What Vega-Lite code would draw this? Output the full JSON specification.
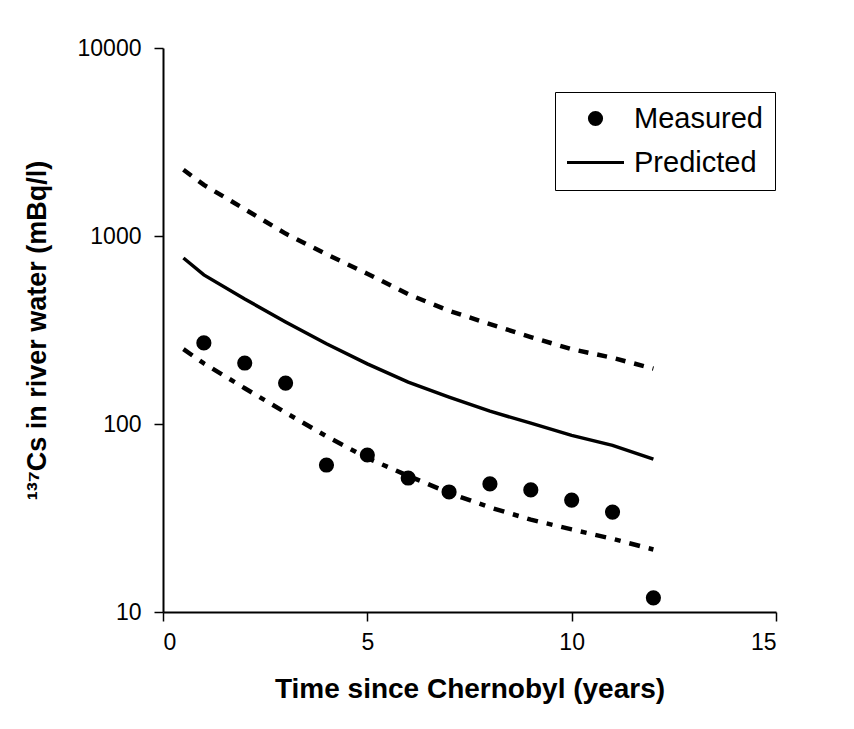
{
  "$schema": "https://vega.github.io/schema/vega-lite/v6.json",
  "autosize": {"type": "none"},
  "width": 613,
  "height": 564,
  "padding": {"left": 163, "top": 48, "right": 78, "bottom": 117},
  "background": "white",
  "config": {
    "view": {"stroke": null},
    "font": "Liberation Sans",
    "axis": {
      "grid": false,
      "domainColor": "black",
      "domainWidth": 2,
      "tickColor": "black",
      "tickWidth": 1.5,
      "tickSize": 9,
      "labelColor": "black",
      "labelFont": "Liberation Sans",
      "labelFontSize": 23,
      "titleColor": "black",
      "titleFont": "Liberation Sans",
      "titleFontWeight": "bold",
      "titleFontSize": 27
    }
  },
  "datasets": {
    "measured": [
      {"t": 1, "value": 270, "series": "Measured"},
      {"t": 2, "value": 211, "series": "Measured"},
      {"t": 3, "value": 165, "series": "Measured"},
      {"t": 4, "value": 60.5, "series": "Measured"},
      {"t": 5, "value": 68.4, "series": "Measured"},
      {"t": 6, "value": 51.6, "series": "Measured"},
      {"t": 7, "value": 43.5, "series": "Measured"},
      {"t": 8, "value": 48, "series": "Measured"},
      {"t": 9, "value": 44.6, "series": "Measured"},
      {"t": 10, "value": 39.4, "series": "Measured"},
      {"t": 11, "value": 34, "series": "Measured"},
      {"t": 12, "value": 11.9, "series": "Measured"}
    ],
    "model": [
      {"t": 0.5, "predicted": 764, "upper": 2250, "lower": 250},
      {"t": 1, "predicted": 621, "upper": 1870, "lower": 210},
      {"t": 2, "predicted": 462, "upper": 1390, "lower": 155},
      {"t": 3, "predicted": 349, "upper": 1030, "lower": 115},
      {"t": 4, "predicted": 267, "upper": 800, "lower": 86},
      {"t": 5, "predicted": 209, "upper": 630, "lower": 66},
      {"t": 6, "predicted": 167, "upper": 490, "lower": 53},
      {"t": 7, "predicted": 139, "upper": 400, "lower": 43},
      {"t": 8, "predicted": 117, "upper": 340, "lower": 36},
      {"t": 9, "predicted": 101, "upper": 290, "lower": 31},
      {"t": 10, "predicted": 87, "upper": 250, "lower": 27.5},
      {"t": 11, "predicted": 77, "upper": 225, "lower": 24.5},
      {"t": 12, "predicted": 65, "upper": 197, "lower": 21.5}
    ]
  },
  "encoding": {
    "x": {
      "field": "t",
      "type": "quantitative",
      "scale": {"domain": [0, 15], "nice": false, "zero": false},
      "axis": {
        "values": [0, 5, 10, 15],
        "title": "Time since Chernobyl (years)",
        "titleFontSize": 28,
        "labelPadding": 10,
        "titlePadding": 21
      }
    }
  },
  "layer": [
    {
      "data": {"name": "model"},
      "mark": {"type": "line", "color": "black", "strokeWidth": 4.5, "strokeDash": [10, 9]},
      "encoding": {
        "y": {
          "field": "upper",
          "type": "quantitative",
          "scale": {"type": "log", "domain": [10, 10000], "nice": false},
          "axis": {
            "values": [10, 100, 1000, 10000],
            "format": "d",
            "title": "¹³⁷Cs in river water (mBq/l)",
            "labelPadding": 13,
            "titlePadding": 26
          }
        }
      }
    },
    {
      "data": {"name": "model"},
      "mark": {"type": "line", "color": "black", "strokeWidth": 4.5, "strokeDash": [11, 9, 6, 9]},
      "encoding": {
        "y": {"field": "lower", "type": "quantitative"}
      }
    },
    {
      "data": {"name": "model"},
      "mark": {"type": "line", "color": "black", "strokeWidth": 3.5},
      "encoding": {
        "y": {"field": "predicted", "type": "quantitative"}
      }
    },
    {
      "data": {"name": "measured"},
      "mark": {"type": "point", "filled": true, "color": "black", "opacity": 1},
      "encoding": {
        "y": {"field": "value", "type": "quantitative"},
        "shape": {
          "field": "series",
          "type": "nominal",
          "scale": {"domain": ["Measured", "Predicted"], "range": ["circle", "M-1,-0.055H1V0.055H-1Z"]},
          "legend": {
            "title": null,
            "orient": "none",
            "legendX": 392,
            "legendY": 44,
            "padding": 12,
            "strokeColor": "black",
            "fillColor": "white",
            "labelFont": "Liberation Sans",
            "labelFontSize": 29,
            "labelColor": "black",
            "labelOffset": 10,
            "rowPadding": -15,
            "symbolFillColor": "black",
            "symbolStrokeWidth": 0,
            "symbolOpacity": 1
          }
        },
        "size": {
          "field": "series",
          "type": "nominal",
          "scale": {"domain": ["Measured", "Predicted"], "range": [230, 3249]},
          "legend": {
            "title": null,
            "orient": "none",
            "legendX": 392,
            "legendY": 44,
            "padding": 12,
            "strokeColor": "black",
            "fillColor": "white",
            "labelFont": "Liberation Sans",
            "labelFontSize": 29,
            "labelColor": "black",
            "labelOffset": 10,
            "rowPadding": -15,
            "symbolFillColor": "black",
            "symbolStrokeWidth": 0,
            "symbolOpacity": 1
          }
        }
      }
    }
  ]
}
